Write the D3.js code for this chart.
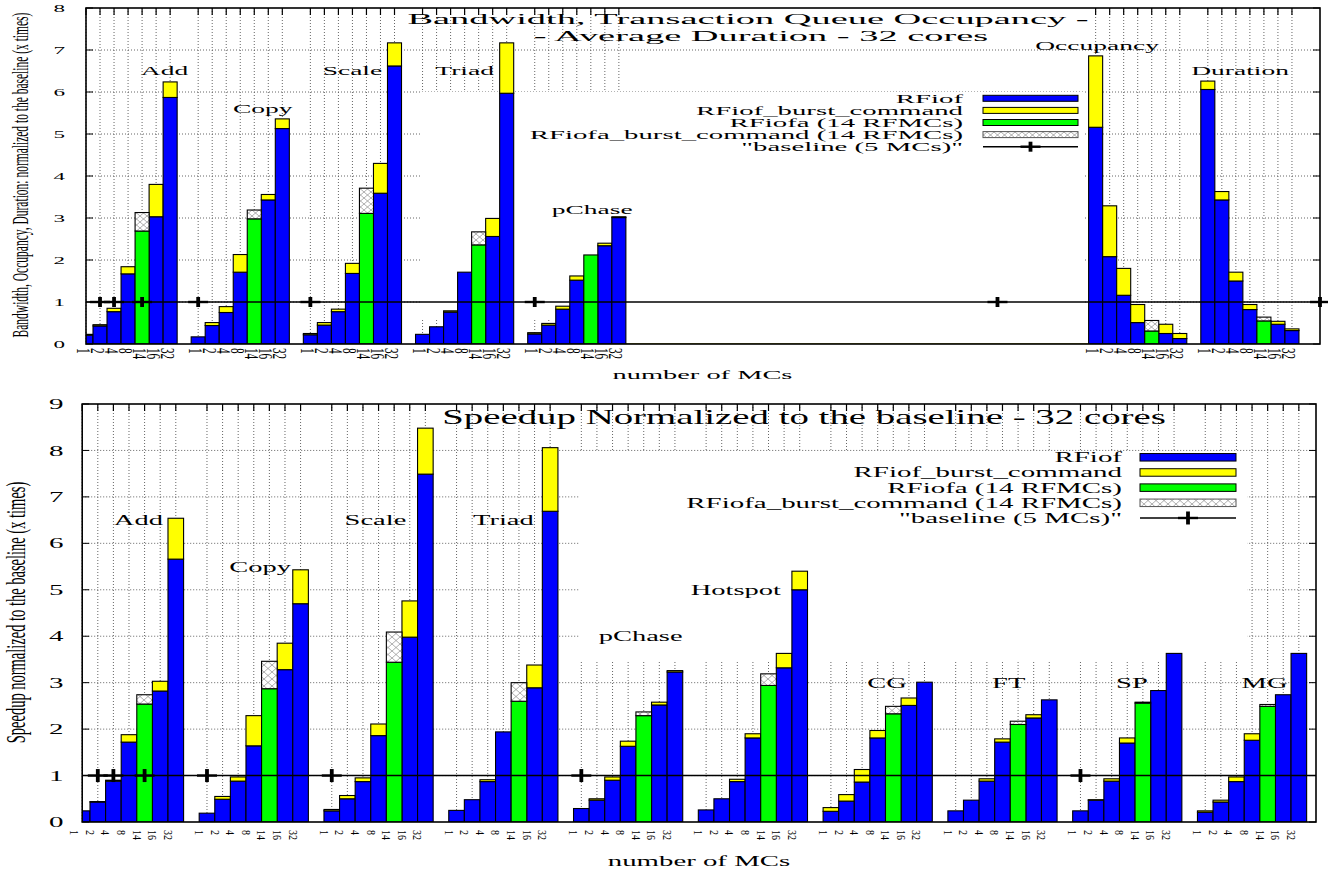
<!DOCTYPE html>
<html>
<head>
<meta charset="utf-8">
<script src="https://cdn.jsdelivr.net/npm/d3@7"></script>
<style>
  html, body { margin: 0; padding: 0; background: #fff; }
  svg text { font-family: "Liberation Serif", "Times New Roman", serif; fill: #000; }
</style>
</head>
<body>
<svg id="fig" width="1328" height="869"></svg>
<script>
// Number of memory controllers for each bar inside a benchmark group
const mcCounts = ["1", "2", "4", "8", "14", "16", "32"];
const rfiofaMC = "14";   // the RFiofa configuration uses 14 RFMCs

// Series names shown in the key
const seriesNames = ["RFiof", "RFiof_burst_command", "RFiofa (14 RFMCs)",
                     "RFiofa_burst_command (14 RFMCs)", "\"baseline (5 MCs)\""];

// ---------- Bandwidth / occupancy / duration (upper panel) ----------
const topGroups = ["Add", "Copy", "Scale", "Triad", "pChase", null, null, null, null, "Occupancy", "Duration"];
// RFiof values for 1,2,4,8,16,32 MCs
const topRFiof = [
  [0.21, 0.43, 0.77, 1.67, 3.03, 5.87],
  [0.17, 0.44, 0.75, 1.71, 3.43, 5.13],
  [0.22, 0.45, 0.77, 1.68, 3.59, 6.62],
  [0.23, 0.41, 0.76, 1.71, 2.56, 5.97],
  [0.24, 0.45, 0.83, 1.52, 2.34, 3.01],
  null, null, null, null,
  [5.16, 2.08, 1.16, 0.51, 0.25, 0.13],
  [6.06, 3.43, 1.50, 0.82, 0.47, 0.32]
];
// RFiof with burst command (total bar height)
const topRFiofBurst = [
  [0.23, 0.46, 0.85, 1.84, 3.80, 6.24],
  [0.17, 0.51, 0.89, 2.13, 3.56, 5.36],
  [0.25, 0.51, 0.83, 1.92, 4.30, 7.17],
  [0.23, 0.41, 0.79, 1.71, 2.99, 7.17],
  [0.27, 0.49, 0.90, 1.62, 2.40, 3.03],
  null, null, null, null,
  [6.86, 3.29, 1.80, 0.94, 0.47, 0.25],
  [6.26, 3.63, 1.71, 0.94, 0.54, 0.36]
];
const topRFiofa      = [2.69, 2.98, 3.11, 2.36, 2.12, null, null, null, null, 0.31, 0.55];
const topRFiofaBurst = [3.13, 3.19, 3.71, 2.67, 2.12, null, null, null, null, 0.56, 0.64];
const topBaselineX = [1, 2, 4, 8, 16, 32, 65, 88];
const topYTicks = [0, 1, 2, 3, 4, 5, 6, 7, 8];
// benchmark names placed as labels (x in bar slots, y in chart units)
const topNotes = [
  ["Add", 5.6, 6.5], ["Copy", 12.6, 5.6], ["Scale", 19.0, 6.5], ["Triad", 27.0, 6.5],
  ["pChase", 36.1, 3.2], ["Occupancy", 72.1, 7.1], ["Duration", 82.3, 6.5]
];

// ---------- Speedup (lower panel) ----------
const botGroups = ["Add", "Copy", "Scale", "Triad", "pChase", "Hotspot", "CG", "FT", "SP", "MG"];
const botRFiof = [
  [0.24, 0.43, 0.88, 1.72, 2.82, 5.66],
  [0.19, 0.49, 0.88, 1.64, 3.28, 4.70],
  [0.24, 0.50, 0.87, 1.86, 3.98, 7.49],
  [0.25, 0.48, 0.87, 1.94, 2.89, 6.69],
  [0.29, 0.47, 0.90, 1.63, 2.52, 3.23],
  [0.26, 0.50, 0.87, 1.81, 3.32, 5.00],
  [0.23, 0.45, 0.86, 1.81, 2.51, 3.01],
  [0.24, 0.47, 0.88, 1.72, 2.24, 2.63],
  [0.24, 0.47, 0.88, 1.70, 2.83, 3.63],
  [0.21, 0.43, 0.87, 1.76, 2.74, 3.63]
];
const botRFiofBurst = [
  [0.24, 0.44, 0.90, 1.88, 3.03, 6.54],
  [0.19, 0.55, 0.97, 2.29, 3.85, 5.43],
  [0.27, 0.57, 0.95, 2.11, 4.76, 8.48],
  [0.25, 0.48, 0.91, 1.94, 3.38, 8.06],
  [0.29, 0.50, 0.97, 1.74, 2.58, 3.26],
  [0.26, 0.50, 0.92, 1.90, 3.63, 5.40],
  [0.31, 0.59, 1.13, 1.97, 2.67, 3.01],
  [0.24, 0.47, 0.93, 1.79, 2.31, 2.63],
  [0.24, 0.48, 0.93, 1.81, 2.83, 3.63],
  [0.24, 0.47, 0.97, 1.90, 2.74, 3.63]
];
const botRFiofa      = [2.54, 2.87, 3.44, 2.60, 2.29, 2.94, 2.33, 2.10, 2.56, 2.49];
const botRFiofaBurst = [2.74, 3.46, 4.09, 3.00, 2.37, 3.19, 2.49, 2.17, 2.58, 2.53];
const botBaselineX = [1, 2, 4, 8, 16, 32, 64];
const botYTicks = [0, 1, 2, 3, 4, 5, 6, 7, 8, 9];
const botNotes = [
  ["Add", 3.6, 6.5], ["Copy", 11.4, 5.5], ["Scale", 18.8, 6.5], ["Triad", 27.0, 6.5],
  ["pChase", 35.8, 4.0], ["Hotspot", 41.9, 5.0], ["CG", 51.6, 3.0], ["FT", 59.4, 3.0],
  ["SP", 67.3, 3.0], ["MG", 75.8, 3.0]
];

const COLOR_RFIOF = "#0000ff", COLOR_BURST = "#ffff00", COLOR_RFIOFA = "#00ff00";
const rfiofaSlot = mcCounts.indexOf(rfiofaMC);
const rfiofSlots = mcCounts.map((m, i) => i).filter(i => i !== rfiofaSlot);
const SLOTS_PER_GROUP = mcCounts.length + 1;

const fig = d3.select("#fig");
const defs = fig.append("defs");

function makeHatch(id, w, h) {
  const p = defs.append("pattern").attr("id", id)
    .attr("patternUnits", "userSpaceOnUse").attr("width", w).attr("height", h);
  p.append("rect").attr("width", w).attr("height", h).attr("fill", "#fff");
  p.append("path").attr("d", `M0,0L${w},${h}M0,${h}L${w},0`)
    .attr("stroke", "#8c8c8c").attr("stroke-width", 0.7).attr("fill", "none");
}

// text whose glyphs are widened horizontally (sx) like the rest of the figure
function stretched(g, x, y, str, o) {
  const tr = `translate(${x},${y}) scale(${o.sx},${o.sy || 1})` + (o.rotate ? ` rotate(${o.rotate})` : "");
  return g.append("text").attr("transform", tr).attr("font-size", o.size)
    .attr("text-anchor", o.anchor || "start").text(str);
}

function drawChart(cfg, d) {
  const x = d3.scaleLinear().domain([0, cfg.xmax]).range([cfg.left, cfg.right]);
  const y = d3.scaleLinear().domain([0, cfg.ymax]).range([cfg.bottom, cfg.top]);
  const g = fig.append("g");
  const bw = x(1) - x(0);

  makeHatch(cfg.id + "-hatch", cfg.hatch[0], cfg.hatch[1]);
  const hatchFill = `url(#${cfg.id}-hatch)`;
  g.append("clipPath").attr("id", cfg.id + "-clip").append("rect")
    .attr("x", cfg.left).attr("y", cfg.top)
    .attr("width", cfg.right - cfg.left).attr("height", cfg.bottom - cfg.top);

  // slots that hold a bar
  const ticks = [];
  d.groups.forEach((name, gi) => {
    if (!d.rfiof[gi]) return;
    mcCounts.forEach((mc, i) => ticks.push({ slot: gi * SLOTS_PER_GROUP + i, mc }));
  });

  // grid
  const grid = g.append("g").attr("stroke", "#555").attr("stroke-width", 0.9)
    .attr("stroke-dasharray", "1,2").attr("fill", "none");
  grid.selectAll("line.h").data(d.yTicks.filter(v => v > 0 && v < cfg.ymax)).join("line")
    .attr("x1", cfg.left).attr("x2", cfg.right).attr("y1", v => y(v)).attr("y2", v => y(v));
  grid.selectAll("line.v").data(ticks).join("line")
    .attr("x1", t => x(t.slot)).attr("x2", t => x(t.slot)).attr("y1", cfg.top).attr("y2", cfg.bottom);

  // opaque key background
  const kb = cfg.keyBox;
  g.append("rect").attr("x", kb[0]).attr("y", kb[1]).attr("width", kb[2] - kb[0])
    .attr("height", kb[3] - kb[1]).attr("fill", "#fff");

  // y ticks on both sides
  const yt = g.append("g").attr("stroke", "#000").attr("stroke-width", 1);
  yt.selectAll("line.l").data(d.yTicks).join("line")
    .attr("x1", cfg.left).attr("x2", cfg.left + 7).attr("y1", v => y(v)).attr("y2", v => y(v));
  yt.selectAll("line.r").data(d.yTicks).join("line").attr("class", "r")
    .attr("x1", cfg.right).attr("x2", cfg.right - 7).attr("y1", v => y(v)).attr("y2", v => y(v));

  // empty benchmark groups leave only a flat trace on the axis
  let runStart = null;
  d.groups.forEach((name, gi) => {
    const empty = !d.rfiof[gi];
    if (empty && runStart === null) runStart = gi;
    if (!empty && runStart !== null) {
      g.append("line").attr("x1", x(runStart * SLOTS_PER_GROUP - 1.5)).attr("x2", x(gi * SLOTS_PER_GROUP - 0.5))
        .attr("y1", y(0) - 0.5).attr("y2", y(0) - 0.5).attr("stroke", "#b0b040").attr("stroke-width", 1.2);
      runStart = null;
    }
  });

  // stacked bars
  const segs = [];
  d.groups.forEach((name, gi) => {
    if (!d.rfiof[gi]) return;
    rfiofSlots.forEach((si, j) => {
      const s = gi * SLOTS_PER_GROUP + si, v = d.rfiof[gi][j], t = d.rfiofBurst[gi][j];
      segs.push({ slot: s, v0: 0, v1: v, fill: COLOR_RFIOF });
      if (t > v) segs.push({ slot: s, v0: v, v1: t, fill: COLOR_BURST });
    });
    const s = gi * SLOTS_PER_GROUP + rfiofaSlot;
    segs.push({ slot: s, v0: 0, v1: d.rfiofa[gi], fill: COLOR_RFIOFA });
    if (d.rfiofaBurst[gi] > d.rfiofa[gi])
      segs.push({ slot: s, v0: d.rfiofa[gi], v1: d.rfiofaBurst[gi], fill: hatchFill });
  });
  g.append("g").attr("clip-path", `url(#${cfg.id}-clip)`)
    .selectAll("rect").data(segs).join("rect")
    .attr("x", s => x(s.slot - 0.5)).attr("width", bw)
    .attr("y", s => y(s.v1)).attr("height", s => y(s.v0) - y(s.v1))
    .attr("fill", s => s.fill).attr("stroke", "#000").attr("stroke-width", 1.1);

  // baseline series
  const line = d3.line().x(p => x(p)).y(() => y(1));
  g.append("path").datum([0, ...d.baselineX.filter(p => p < cfg.xmax), cfg.xmax])
    .attr("d", line).attr("fill", "none").attr("stroke", "#000").attr("stroke-width", 1.6);
  const marks = g.append("g").attr("stroke", "#000");
  marks.selectAll("line.v").data(d.baselineX).join("line")
    .attr("x1", p => x(p)).attr("x2", p => x(p))
    .attr("y1", y(1) - cfg.mark[0]).attr("y2", y(1) + cfg.mark[0]).attr("stroke-width", 3.8);
  marks.selectAll("line.h").data(d.baselineX).join("line").attr("class", "h")
    .attr("x1", p => x(p) - cfg.mark[1]).attr("x2", p => x(p) + cfg.mark[1])
    .attr("y1", y(1)).attr("y2", y(1)).attr("stroke-width", 2.4);

  // frame and top ticks
  g.append("rect").attr("x", cfg.left).attr("y", cfg.top)
    .attr("width", cfg.right - cfg.left).attr("height", cfg.bottom - cfg.top)
    .attr("fill", "none").attr("stroke", "#000").attr("stroke-width", 1.6);
  g.append("g").attr("stroke", "#000").attr("stroke-width", 1.2)
    .selectAll("line").data(ticks).join("line")
    .attr("x1", t => x(t.slot)).attr("x2", t => x(t.slot)).attr("y1", cfg.top).attr("y2", cfg.top + 7);

  // axis tick labels
  d.yTicks.forEach(v => stretched(g, cfg.yTickEnd, y(v) + cfg.yTickSize * 0.35, String(v),
    { sx: cfg.yTickSx, size: cfg.yTickSize, anchor: "end" }));
  ticks.forEach(t => stretched(g, x(t.slot) + cfg.xTick.dx, cfg.xTick.y, t.mc,
    { sx: cfg.xTick.sx, sy: cfg.xTick.sy, size: cfg.xTick.size, rotate: 90 }));

  // titles
  cfg.title.forEach(l => stretched(g, l.x, l.y, l.text, { sx: cfg.titleSx, size: cfg.titleSize, anchor: "middle" }));
  stretched(g, cfg.yTitle.x, cfg.yTitle.y, d.yTitle,
    { sx: cfg.yTitle.sx, size: cfg.yTitle.size, anchor: "middle", rotate: -90 });
  stretched(g, cfg.xTitle.x, cfg.xTitle.y, "number of MCs",
    { sx: cfg.xTitle.sx, size: cfg.xTitle.size, anchor: "middle" });

  // benchmark labels
  d.notes.forEach(([txt, nx, ny]) => stretched(g, x(nx), y(ny) + cfg.noteSize * 0.33, txt,
    { sx: cfg.noteSx, size: cfg.noteSize, anchor: "middle" }));

  // key
  const k = cfg.key;
  const fills = [COLOR_RFIOF, COLOR_BURST, COLOR_RFIOFA, hatchFill];
  seriesNames.forEach((name, i) => {
    const cy = k.y0 + i * k.dy;
    stretched(g, k.textEnd, cy + k.size * 0.33, name, { sx: k.sx, size: k.size, anchor: "end" });
    if (i < 4) {
      g.append("rect").attr("x", k.x1).attr("y", cy - k.h / 2).attr("width", k.x2 - k.x1).attr("height", k.h)
        .attr("fill", fills[i]).attr("stroke", i === 3 ? "#555" : "#000").attr("stroke-width", 1);
    } else {
      g.append("line").attr("x1", k.x1).attr("x2", k.x2).attr("y1", cy).attr("y2", cy)
        .attr("stroke", "#000").attr("stroke-width", 1.6);
      const mx = (k.x1 + k.x2) / 2;
      g.append("line").attr("x1", mx).attr("x2", mx).attr("y1", cy - cfg.mark[0]).attr("y2", cy + cfg.mark[0])
        .attr("stroke", "#000").attr("stroke-width", 3.8);
      g.append("line").attr("x1", mx - cfg.mark[1]).attr("x2", mx + cfg.mark[1]).attr("y1", cy).attr("y2", cy)
        .attr("stroke", "#000").attr("stroke-width", 2.4);
    }
  });
}

drawChart({
  id: "bw", left: 86, right: 1320, top: 8, bottom: 344, xmax: 88, ymax: 8,
  hatch: [7, 6], keyBox: [420, 92, 1085, 320], mark: [5, 10],
  yTickEnd: 65, yTickSize: 10.5, yTickSx: 2.2,
  xTick: { dx: -9.5, y: 348, size: 9, sx: 2.0, sy: 1.25 },
  title: [{ text: "Bandwidth, Transaction Queue Occupancy -", x: 748, y: 24 },
          { text: "- Average Duration - 32 cores", x: 761, y: 41 }],
  titleSize: 15, titleSx: 2.56,
  yTitle: { x: 28, y: 175, size: 11.5, sx: 2.0 },
  xTitle: { x: 702.5, y: 379, size: 12.8, sx: 2.22 },
  noteSize: 12.5, noteSx: 2.2,
  key: { textEnd: 963, y0: 98.3, dy: 12.1, size: 12.8, sx: 2.25, x1: 983, x2: 1078, h: 6 }
}, {
  groups: topGroups, rfiof: topRFiof, rfiofBurst: topRFiofBurst,
  rfiofa: topRFiofa, rfiofaBurst: topRFiofaBurst, baselineX: topBaselineX,
  yTicks: topYTicks, notes: topNotes,
  yTitle: "Bandwidth, Occupancy, Duration: normalized to the baseline (x times)"
});

drawChart({
  id: "sp", left: 82.2, right: 1316, top: 404, bottom: 822, xmax: 79.1, ymax: 9,
  hatch: [8, 7], keyBox: [580, 452, 1247, 661], mark: [6.5, 10],
  yTickEnd: 63.5, yTickSize: 14.5, yTickSx: 2.0,
  xTick: { dx: -12, y: 830, size: 10, sx: 1.3, sy: 1.0 },
  title: [{ text: "Speedup Normalized to the baseline - 32 cores", x: 804, y: 424 }],
  titleSize: 21, titleSx: 1.85,
  yTitle: { x: 24.5, y: 612.5, size: 14.5, sx: 1.9 },
  xTitle: { x: 699, y: 866, size: 15, sx: 1.92 },
  noteSize: 15, noteSx: 1.9,
  key: { textEnd: 1122, y0: 457.3, dy: 15.17, size: 15, sx: 1.93, x1: 1140, x2: 1236, h: 7.5 }
}, {
  groups: botGroups, rfiof: botRFiof, rfiofBurst: botRFiofBurst,
  rfiofa: botRFiofa, rfiofaBurst: botRFiofaBurst, baselineX: botBaselineX,
  yTicks: botYTicks, notes: botNotes,
  yTitle: "Speedup normalized to the baseline (x times)"
});
</script>
</body>
</html>
